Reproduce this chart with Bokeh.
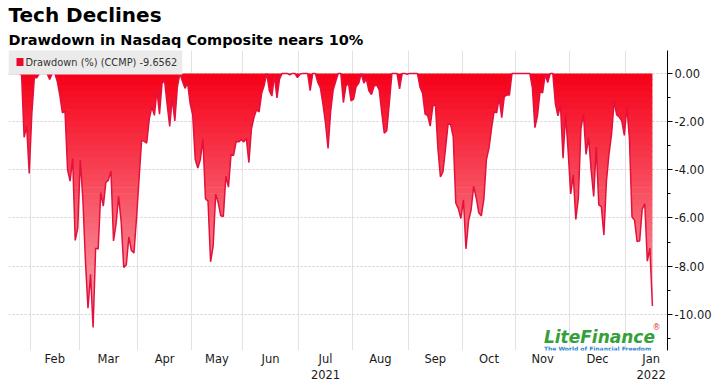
import numpy as np
import pandas as pd
from bokeh.plotting import figure
from bokeh.models import (Range1d, FixedTicker, SingleIntervalTicker, NumeralTickFormatter,
                          Title, Label, LinearAxis, BoxAnnotation)
from bokeh.embed import file_html
from bokeh.resources import INLINE

# ---------------- data ----------------
title_text = "Tech Declines"
subtitle_text = "Drawdown in Nasdaq Composite nears 10%"
series_name = "Drawdown (%) (CCMP)"

first_session = "2021-01-19"
calendar_end = "2022-01-31"
holidays = ["2021-02-15", "2021-04-02", "2021-05-31", "2021-07-05", "2021-09-06",
            "2021-11-25", "2021-12-24", "2022-01-17"]

# daily drawdown (%) per trading session
drawdown = [
    0, 0, 0, 0, 0, -0.07, -2.65, -2.2, -4.15,                                   # Jan
    -1.7, -0.17, -0.18, 0, 0, 0, 0, -0.25, 0, 0, -0.34, -0.92, -1.64, -1.57,
    -3.99, -4.47, -3.53, -6.93, -6.41,                                          # Feb
    -3.6, -5.23, -7.78, -9.74, -8.34, -10.54, -7.25, -7.29, -4.95, -5.51,
    -4.52, -4.43, -4.05, -6.95, -6.25, -5.1, -6.16, -8.05, -7.94, -6.79,
    -7.35, -7.45, -6.02,                                                        # Mar
    -4.37, -2.77, -2.82, -2.89, -1.89, -1.39, -1.74, -0.7, -1.69, -0.41,
    -0.31, -1.29, -2.2, -1.03, -1.97, -0.56, 0, -0.34, -0.62, -0.4, -1.25,      # Apr
    -1.72, -3.57, -3.93, -3.57, -2.73, -5.2, -5.3, -7.82, -7.17, -5.01,
    -5.37, -5.91, -5.94, -4.26, -4.72, -3.37, -3.4, -2.83, -2.84, -2.75,        # May
    -2.84, -2.7, -3.7, -2.3, -1.82, -1.51, -1.6, -0.83, -0.49, 0, -0.72,
    -0.94, -0.09, -1.02, -0.23, 0, 0, 0, -0.06, 0, 0, -0.17,                    # Jun
    -0.04, 0, 0, 0, -0.72, 0, 0, -0.38, -0.6, -1.28, -2.07, -3.11, -1.59,
    -0.69, -0.33, 0, 0, -1.21, -0.52, -0.42, -1.14,                             # Jul
    -1.07, -0.54, -0.41, 0, -0.4, -0.24, -0.72, -0.88, -0.53, -0.48, -0.68,
    -1.6, -2.48, -2.37, -1.21, 0, 0, 0, -0.64, 0, 0, -0.04,                     # Aug
    0, 0, 0, 0, -0.57, -0.82, -1.69, -1.75, -2.19, -1.38, -1.25, -3.1, -4.3,
    -4.08, -3.1, -2.1, -2.12, -2.63, -5.38, -5.61, -6.02,                       # Sep
    -5.25, -7.28, -6.12, -5.67, -4.69, -5.16, -5.78, -5.91, -5.22, -3.58,
    -3.1, -2.29, -1.59, -1.64, -1.02, -1.84, -0.96, -0.9, -0.9, 0, 0,           # Oct
    0, 0, 0, 0, 0, 0, -0.6, -2.25, -1.74, -0.76, -0.81, -0.05, -0.38, 0, 0,
    -1.26, -1.76, -1.32, -3.52, -1.71, -3.23,                                   # Nov
    -5.0, -4.21, -6.06, -5.18, -2.3, -1.69, -3.36, -2.66, -4.01, -5.11, -3.06,
    -5.46, -5.53, -6.71, -4.46, -3.34, -2.52, -1.16, -1.72, -1.81, -1.97, -2.57,  # Dec
    -1.4, -2.71, -5.96, -6.09, -6.98, -6.95, -5.63, -5.41, -7.79, -7.25, -9.6562,  # Jan
]

month_labels = ["Feb", "Mar", "Apr", "May", "Jun", "Jul", "Aug", "Sep",
                "Oct", "Nov", "Dec", "Jan"]
year_labels = ["", "", "", "", "", "2021", "", "", "", "", "", "2022"]

# ---------------- scales ----------------
calendar = pd.bdate_range(first_session, calendar_end, freq="C", holidays=holidays)
months = calendar.to_period("M")
starts = [i for i in range(1, len(calendar)) if months[i] != months[i - 1]]
boundaries = [s - 0.5 for s in starts]
edges = boundaries + [len(calendar) - 0.5]
centers = [(edges[k] + edges[k + 1]) / 2 for k in range(len(edges) - 1)]
year_ticks = [c for c, yl in zip(centers, year_labels) if yl]

x = np.arange(len(drawdown), dtype=float)
y = np.array(drawdown, dtype=float)

FRAME_W, FRAME_H = 659, 300
p = figure(frame_width=FRAME_W, frame_height=FRAME_H,
           x_range=Range1d(-0.12, 257.9), y_range=Range1d(-11.5, 0.95),
           y_axis_location="right", output_backend="svg", toolbar_location=None,
           title=None, min_border_left=8, min_border_right=0, min_border_top=50,
           min_border_bottom=0, outline_line_color=None, background_fill_color="white",
           border_fill_color="white")

# ---------------- gradient area (horizontal bands) ----------------
band_step = 0.25
band_floor = -11.0
eps = 0.03
bottoms = np.arange(0, band_floor - 1e-9, -band_step)[1:]
tops = np.concatenate([[0.0], bottoms[:-1] + eps])
levels = sorted(set(list(bottoms) + list(tops)))


def densify(xv, yv, lv):
    xs, ys = [xv[0]], [yv[0]]
    for k in range(len(xv) - 1):
        x0, y0, x1, y1 = xv[k], yv[k], xv[k + 1], yv[k + 1]
        if y1 != y0:
            lo, hi = min(y0, y1), max(y0, y1)
            ts = sorted((L - y0) / (y1 - y0) for L in lv if lo < L < hi)
            for t in ts:
                xs.append(x0 + t * (x1 - x0))
                ys.append(y0 + t * (y1 - y0))
        xs.append(x1)
        ys.append(y1)
    return np.array(xs), np.array(ys)


xd, yd = densify(x, y, levels)
top_rgb = np.array([246, 0, 24])
bot_rgb = np.array([250, 178, 186])
for top, bot in zip(tops, bottoms):
    t = min(1.0, -((top + bot) / 2) / 11.0)
    r, g, b = (top_rgb + (bot_rgb - top_rgb) * t).round().astype(int)
    p.varea(x=xd, y1=np.full_like(yd, top), y2=np.clip(yd, bot, top),
            fill_color=f"#{r:02x}{g:02x}{b:02x}", fill_alpha=1.0)

p.line(x, y, line_color="#e3113c", line_width=1.5)

# ---------------- legend (box label + swatch, screen units in the frame) ----------------
legend_label = Label(x=0, y=FRAME_H - 11.5, x_units="screen", y_units="screen",
                     text=f"{series_name} {drawdown[-1]}", text_font="DejaVu Sans",
                     text_font_size="9.8px", text_color="#333333", text_baseline="middle",
                     text_align="left", background_fill_color="#ebebeb",
                     background_fill_alpha=1.0,
                     padding=dict(left=17, right=5, top=7, bottom=7))
p.add_layout(legend_label)
p.add_layout(BoxAnnotation(left=8, right=15, top=FRAME_H - 7.5, bottom=FRAME_H - 15.5,
                           left_units="screen", right_units="screen",
                           top_units="screen", bottom_units="screen",
                           fill_color="#ec0a2c", fill_alpha=1.0, line_color=None))

# ---------------- axes & grids ----------------
yticker = SingleIntervalTicker(interval=2, num_minor_ticks=2)
ya = p.yaxis[0]
ya.ticker = yticker
ya.formatter = NumeralTickFormatter(format="0.00")
ya.axis_line_color = "black"
ya.major_tick_line_color = "black"
ya.minor_tick_line_color = "black"
ya.major_tick_in = 0
ya.major_tick_out = 5
ya.minor_tick_in = 0
ya.minor_tick_out = 3
ya.major_label_standoff = 2
ya.major_label_text_font = "DejaVu Sans"
ya.major_label_text_font_size = "11.5px"
ya.major_label_text_color = "#1a1a1a"


def style_bottom(ax, standoff):
    ax.axis_line_color = None
    ax.major_tick_line_color = None
    ax.minor_tick_line_color = None
    ax.major_tick_out = 0
    ax.major_tick_in = 0
    ax.minor_tick_out = 0
    ax.major_label_standoff = standoff
    ax.major_label_text_font = "DejaVu Sans"
    ax.major_label_text_font_size = "11.5px"
    ax.major_label_text_color = "#1a1a1a"


xa = p.xaxis[0]
xa.ticker = FixedTicker(ticks=centers)
xa.major_label_overrides = {c: lab for c, lab in zip(centers, month_labels)}
style_bottom(xa, 1)

year_axis = LinearAxis(ticker=FixedTicker(ticks=year_ticks),
                       major_label_overrides={c: yl for c, yl in zip(centers, year_labels) if yl})
style_bottom(year_axis, 1)
p.add_layout(year_axis, "below")

p.xgrid[0].ticker = FixedTicker(ticks=boundaries)
p.xgrid[0].grid_line_color = "#e2e2e2"
p.ygrid[0].ticker = yticker
p.ygrid[0].grid_line_color = "#d0d0d0"
p.ygrid[0].grid_line_dash = "2 2"

# ---------------- titles ----------------
p.add_layout(Title(text=subtitle_text, align="left", text_font="DejaVu Sans",
                   text_font_size="14.5px", text_font_style="bold", text_color="black",
                   offset=0, standoff=6), "above")
p.add_layout(Title(text=title_text, align="left", text_font="DejaVu Sans",
                   text_font_size="20px", text_font_style="bold", text_color="black",
                   offset=0, standoff=0), "above")

# ---------------- watermark ----------------
p.add_layout(Label(x=209.5, y=-11.35, text="LiteFinance", text_font="DejaVu Sans",
                   text_font_size="17px", text_font_style="bold italic",
                   text_color="#35a03a"))
p.add_layout(Label(x=252.0, y=-10.75, text="®", text_font="DejaVu Sans",
                   text_font_size="8px", text_color="#e03a3a"))
p.add_layout(Label(x=209.5, y=-11.56, text="The World of Financial Freedom",
                   text_font="DejaVu Sans", text_font_size="6px",
                   text_font_style="bold", text_color="#2f86d0"))

open("out.html", "w").write(file_html(p, INLINE))
